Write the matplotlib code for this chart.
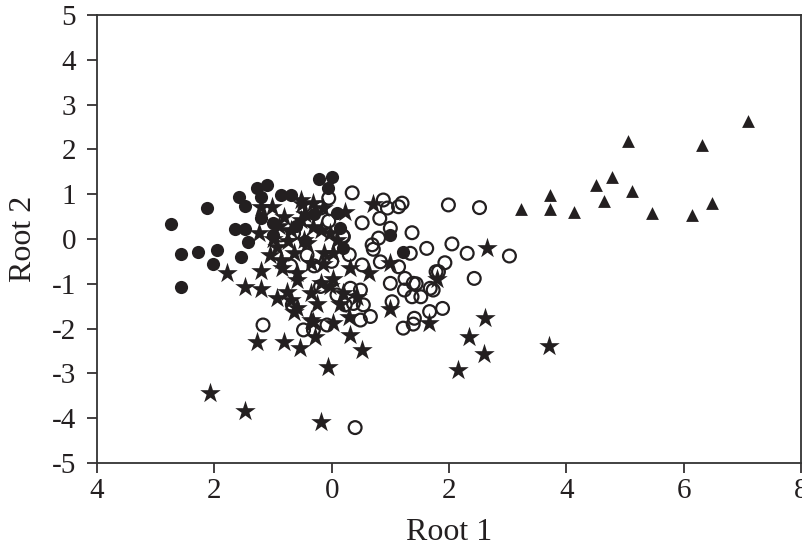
import matplotlib
matplotlib.use("Agg")
import matplotlib.pyplot as plt

# Group 1: filled circles
filled_x = [-2.74, -2.12, -2.57, -2.27, -1.95, -2.03, -2.56, -1.58, -1.47, -1.65,
            -1.47, -1.43, -1.54, -1.28, -1.10, -1.20, -0.87, -0.69, -1.00, -1.00,
            -0.22, 0.01, -0.07, 0.09, 0.20, 1.00, 1.21, -1.21, -0.60, -0.30,
            0.15, -0.45]
filled_y = [0.33, 0.69, -0.34, -0.29, -0.25, -0.56, -1.08, 0.94, 0.74, 0.23,
            0.22, -0.07, -0.41, 1.13, 1.21, 0.94, 0.98, 0.98, 0.35, 0.08,
            1.34, 1.39, 1.13, 0.57, -0.21, 0.09, -0.30, 0.46, 0.30, 0.55,
            0.25, -0.05]

# Group 2: stars
star_x = [-1.78, -1.48, -1.20, -1.21, -0.93, -1.24, -1.21, -1.01, -0.50, -0.32,
          -0.14, 0.23, 0.71, 1.00, 0.63, 0.32, 1.79, 1.00, 1.66, -1.27,
          -0.82, -0.54, -0.28, 0.32, 0.52, -0.06, -2.07, -1.48, -0.18, -0.36,
          0.03, 0.29, -0.65, -0.70, -0.19, -0.02, 0.03, -0.36, -0.59, -0.87,
          -0.93, -0.65, -0.36, -0.13, -0.02, -0.19, -0.48, -0.70, -0.53, -0.82,
          -0.31, 0.09, 0.43, 0.20, -0.53, -0.42, 0.03, -0.84, -0.59, -0.59,
          -0.31, -0.76, -1.00, -0.90, -0.75, -0.45, -0.15, -1.05, -0.25, 0.15,
          2.65, 2.61, 2.34, 2.60, 2.16, 3.71]
star_y = [-0.75, -1.07, -1.12, -0.71, -1.32, 0.13, 0.72, 0.72, 0.78, 0.80,
          0.69, 0.61, 0.77, -0.54, -0.75, -0.65, -0.90, -1.57, -1.88, -2.31,
          -2.31, -2.44, -2.18, -2.15, -2.47, -2.85, -3.43, -3.83, -4.08, -1.81,
          -1.88, -1.75, -1.62, -1.36, -0.99, -1.06, -0.90, -1.21, -0.77, -0.47,
          -0.17, -0.32, -0.54, -0.32, 0.13, 0.20, -0.02, 0.20, 0.42, 0.50,
          0.27, -0.02, -1.30, -1.21, 0.87, -0.10, -0.32, -0.65, -0.92, -1.55,
          -1.85, -1.18, 0.00, 0.30, -0.05, 0.55, -0.55, -0.35, -1.45, -1.45,
          -0.21, -1.77, -2.19, -2.57, -2.92, -2.39]

# Group 3: open circles
open_x = [1.99, 2.52, 1.20, 1.14, 0.88, 0.95, 0.35, 0.82, 0.52, 1.00,
          0.80, 1.37, 0.69, 0.71, 1.34, 1.62, 2.05, 2.31, 3.03, 1.93,
          1.78, 2.43, 1.73, 1.52, 1.44, 1.24, 1.37, 1.89, 1.67, 1.41,
          1.22, 1.39, 0.19, 0.52, 0.83, 1.14, 1.00, 1.25, 1.39, 1.68,
          1.82, 0.32, 0.49, 0.23, 0.37, 0.54, 0.66, 0.49, 1.03, -1.17,
          -0.67, -0.48, -0.31, -0.08, -0.19, -0.05, -0.36, -0.19, -0.42, -0.65,
          -0.87, 0.09, 0.40, 0.20, -0.05, 0.30, -0.30, 0.00, -0.70]
open_y = [0.76, 0.70, 0.80, 0.72, 0.87, 0.69, 1.03, 0.46, 0.36, 0.24,
          0.02, 0.14, -0.13, -0.23, -0.32, -0.21, -0.11, -0.32, -0.38, -0.53,
          -0.73, -0.88, -1.14, -1.29, -1.00, -1.14, -1.29, -1.55, -1.62, -1.77,
          -1.99, -1.90, 0.07, -0.58, -0.51, -0.62, -0.99, -0.88, -0.99, -1.10,
          -0.73, -1.10, -1.14, -1.47, -1.44, -1.47, -1.73, -1.81, -1.40, -1.92,
          -1.47, -2.03, -2.03, -1.92, -1.06, 0.91, 0.65, 0.69, -0.36, 0.13,
          0.09, -1.25, -4.21, 0.05, 0.40, -0.35, -0.60, -0.50, -0.60]

# Group 4: triangles
tri_x = [3.22, 3.73, 3.73, 4.13, 4.50, 4.78, 4.64, 5.12, 5.05, 5.46, 6.14, 6.31, 6.48, 7.09]
tri_y = [0.66, 0.98, 0.66, 0.61, 1.20, 1.38, 0.85, 1.07, 2.19, 0.57, 0.54, 2.10, 0.80, 2.63]

x_ticks = [-4, -2, 0, 2, 4, 6, 8]
x_tick_labels = ["4", "2", "0", "2", "4", "6", "8"]
y_ticks = [-5, -4, -3, -2, -1, 0, 1, 2, 3, 4, 5]
y_tick_labels = ["-5", "-4", "-3", "-2", "-1", "0", "1", "2", "3", "4", "5"]

ink = "#231f20"
plt.rcParams["font.family"] = ["Liberation Serif", "DejaVu Serif"]

fig = plt.figure(figsize=(8.03, 5.47), dpi=100)
ax = fig.add_axes([0.1208, 0.1536, 0.8767, 0.819])

ax.scatter(star_x, star_y, marker="*", s=240, color=ink, linewidths=0, zorder=2)
ax.scatter(open_x, open_y, marker="o", s=85, facecolors="none", edgecolors=ink,
           linewidths=1.6, zorder=3)
ax.scatter(filled_x, filled_y, marker="o", s=90, color=ink, linewidths=0, zorder=3)
ax.scatter(tri_x, tri_y, marker="^", s=85, color=ink, linewidths=0, zorder=3)

ax.set_xlim(-4, 8)
ax.set_ylim(-5, 5)
ax.set_xticks(x_ticks)
ax.set_xticklabels(x_tick_labels)
ax.set_yticks(y_ticks)
ax.set_yticklabels(y_tick_labels)
ax.tick_params(direction="out", length=7, width=1.2, color=ink, labelsize=21,
               labelcolor=ink)
ax.tick_params(axis="y", pad=8)
ax.tick_params(axis="x", pad=4)
for sp in ax.spines.values():
    sp.set_color("#333333")
    sp.set_linewidth(1.3)

ax.set_xlabel("Root 1", fontsize=23, color=ink, labelpad=10)
ax.set_ylabel("Root 2", fontsize=23, color=ink, labelpad=10)

fig.savefig("out.png", dpi=100)
